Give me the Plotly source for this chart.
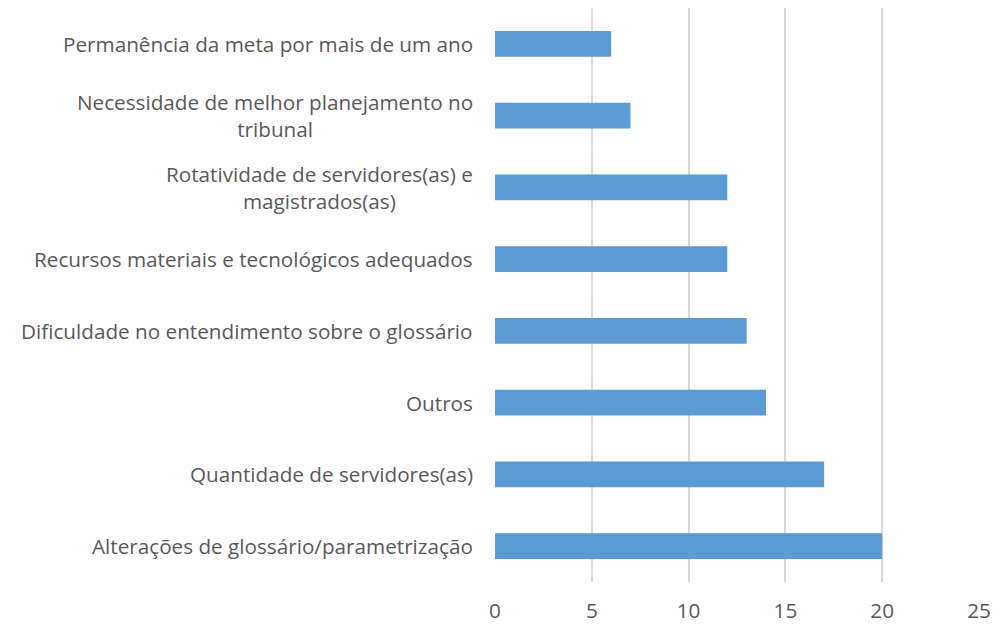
import plotly.graph_objects as go

categories = [
    "Alterações de glossário/parametrização",
    "Quantidade de servidores(as)",
    "Outros",
    "Dificuldade no entendimento sobre o glossário",
    "Recursos materiais e tecnológicos adequados",
    "Rotatividade de servidores(as) e<br>magistrados(as)",
    "Necessidade de melhor planejamento no<br>tribunal",
    "Permanência da meta por mais de um ano",
]
values = [20, 17, 14, 13, 12, 12, 7, 6]
x_ticks = [0, 5, 10, 15, 20, 25]

FONT = "Open Sans, Carlito, Calibri, sans-serif"
TXT = "#595959"
FS = 20.7

fig = go.Figure(go.Bar(
    y=categories, x=values, orientation="h",
    marker=dict(color="#5B9BD5", line=dict(width=0)),
))

annotations = [
    dict(x=0, y=c, xref="paper", yref="y", text=c, showarrow=False,
         xanchor="right", align="center", xshift=-20,
         font=dict(family=FONT, size=FS, color=TXT))
    for c in categories
]

fig.update_layout(
    width=1006, height=624,
    margin=dict(l=495, r=27, t=8, b=42),
    paper_bgcolor="white", plot_bgcolor="white",
    bargap=0.64, showlegend=False,
    annotations=annotations,
    font=dict(family=FONT, size=FS, color=TXT),
)
fig.update_xaxes(
    range=[0, 25], tickvals=x_ticks, showgrid=True, gridcolor="#D9D9D9",
    gridwidth=2, zeroline=False, showline=False, automargin=False,
    tickfont=dict(family=FONT, size=FS, color=TXT),
    ticklabelstandoff=14,
)
fig.update_yaxes(showticklabels=False, showgrid=False, zeroline=False,
                 showline=False, automargin=False, range=[-0.5, 7.5])

fig.write_html("out.html", config={"displayModeBar": False},
               post_script="document.body.style.margin='0';document.body.style.overflow='hidden';")
